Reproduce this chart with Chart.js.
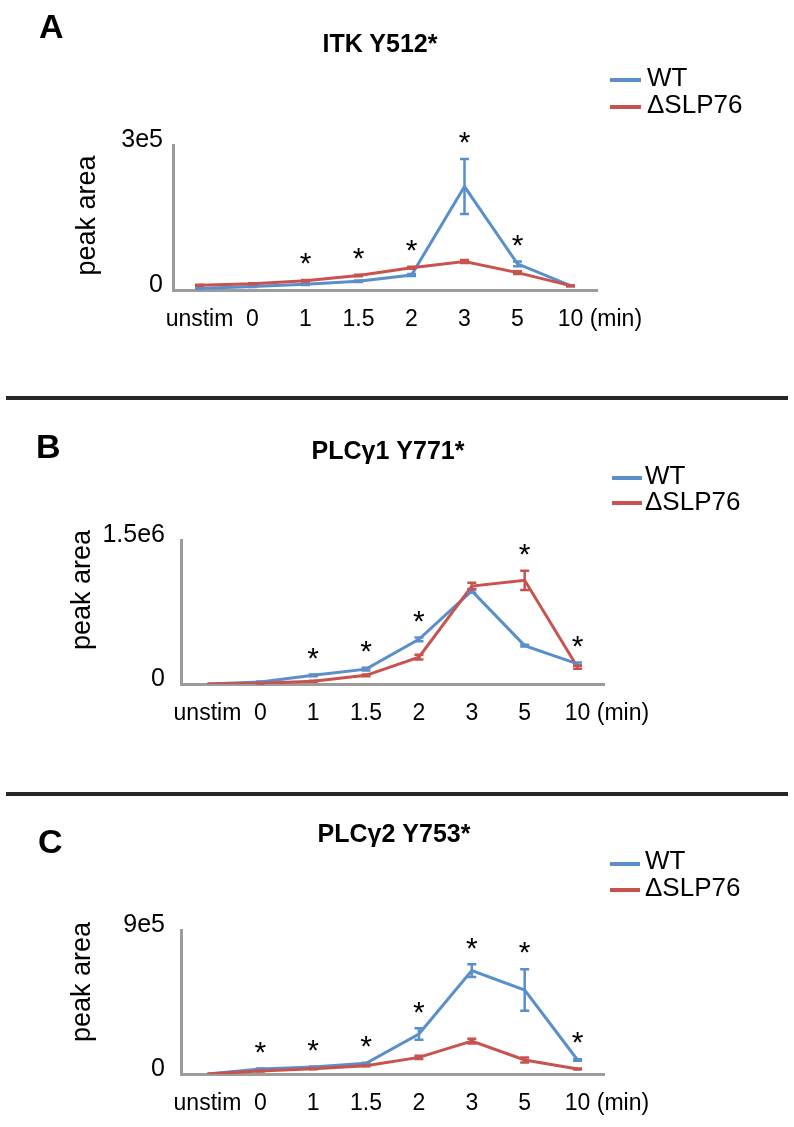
<!DOCTYPE html>
<html><head><meta charset="utf-8">
<script src="https://cdn.jsdelivr.net/npm/chart.js@4.4.1/dist/chart.umd.min.js"></script>
<style>
html,body{margin:0;padding:0;background:#fff;}
body{width:794px;height:1127px;position:relative;overflow:hidden;font-family:"Liberation Sans",Arial,sans-serif;color:#000;}
.abs{position:absolute;white-space:nowrap;z-index:2;}
canvas{position:absolute;left:0;z-index:1;}
.sep{position:absolute;left:6px;width:782px;height:4px;background:#262626;z-index:2;}
.letter{font-weight:bold;font-size:34px;line-height:34px;}
.title{font-weight:bold;font-size:25px;line-height:25px;transform:translateX(-50%);}
.leg{font-size:26px;line-height:26px;}
.legline{position:absolute;height:4px;z-index:2;}
</style></head>
<body>
<canvas id="cA" width="794" height="398" style="top:0px"></canvas>
<canvas id="cB" width="794" height="396" style="top:398px"></canvas>
<canvas id="cC" width="794" height="333" style="top:794px"></canvas>

<div class="sep" style="top:396px"></div>
<div class="sep" style="top:792px"></div>

<div class="abs letter" style="left:39px;top:9px">A</div>
<div class="abs letter" style="left:36px;top:429px">B</div>
<div class="abs letter" style="left:38px;top:824px">C</div>

<div class="abs title" id="tA" style="left:380px;top:31px"></div>
<div class="abs title" id="tB" style="left:388px;top:438px"></div>
<div class="abs title" id="tC" style="left:394px;top:821px"></div>

<div id="legends"></div>

<script>
// ---------- data ----------
const categories = ['unstim', '0', '1', '1.5', '2', '3', '5', '10'];
const unitLabel = '(min)';
const seriesNames = ['WT', 'ΔSLP76'];
const yAxisTitle = 'peak area';

// Panel A: ITK Y512*
const titleA = 'ITK Y512*';
const itkWT     = [3000, 7000, 12000, 18000, 31000, 214000, 54000, 9000];
const itkWTErr  = [1000, 1000, 1500, 1500, 2000, 57000, 5000, 1000];
const itkKO     = [10000, 13000, 19000, 30000, 46000, 59000, 36000, 9000];
const itkKOErr  = [1000, 1000, 1500, 1500, 2000, 3000, 3000, 1000];
const itkSig    = [false, false, true, true, true, true, true, false];
const itkYTicks = ['0', '3e5'];
const itkYMax   = 300000;

// Panel B: PLCγ1 Y771*
const titleB = 'PLCγ1 Y771*';
const plcg1WT    = [0, 20000, 90000, 155000, 465000, 970000, 400000, 210000];
const plcg1WTErr = [0, 5000, 10000, 15000, 20000, 20000, 10000, 15000];
const plcg1KO    = [0, 7000, 28000, 90000, 280000, 1020000, 1080000, 175000];
const plcg1KOErr = [0, 3000, 5000, 10000, 25000, 35000, 100000, 15000];
const plcg1Sig   = [false, false, true, true, true, false, true, true];
const plcg1YTicks = ['0', '1.5e6'];
const plcg1YMax   = 1500000;

// Panel C: PLCγ2 Y753*
const titleC = 'PLCγ2 Y753*';
const plcg2WT    = [0, 31000, 44000, 67000, 250000, 646000, 525000, 87500];
const plcg2WTErr = [0, 3000, 3000, 3000, 36000, 40000, 130000, 5000];
const plcg2KO    = [0, 19000, 33000, 52000, 104000, 206000, 87500, 31000];
const plcg2KOErr = [0, 3000, 3000, 3000, 10000, 15000, 15000, 3000];
const plcg2Sig   = [false, true, true, true, true, true, true, true];
const plcg2YTicks = ['0', '9e5'];
const plcg2YMax   = 900000;

// ---------- styles / layout ----------
const BLUE = '#5A8FCB';
const RED = '#C9524F';
const AXIS = '#9C9C9C';
const FONT = '"Liberation Sans", Arial, sans-serif';
Chart.defaults.font.family = FONT;
Chart.defaults.color = '#000';

const X_AXIS_H = 50;
const layoutA = {left:173, padRight:197, padTop:145, padBottom:58, yPad:10, yTitleX:88, yTitleDy:-2,
  legendLineX:610, legendLineW:31, legendTextX:647, legendText:[64, 91], legendLine:[78, 105]};
const layoutB = {left:181, padRight:190, padTop:142, padBottom:60, yPad:16, yTitleX:83, yTitleDy:-22,
  legendLineX:612, legendLineW:30, legendTextX:645, legendText:[462, 488], legendLine:[476, 501]};
const layoutC = {left:181, padRight:190, padTop:136, padBottom:3, yPad:16, yTitleX:83, yTitleDy:-20,
  legendLineX:610, legendLineW:30, legendTextX:645, legendText:[847, 874], legendLine:[862, 888]};

document.getElementById('tA').textContent = titleA;
document.getElementById('tB').textContent = titleB;
document.getElementById('tC').textContent = titleC;

function addLegend(L) {
  const host = document.getElementById('legends');
  [BLUE, RED].forEach((c, i) => {
    const ln = document.createElement('div');
    ln.className = 'legline';
    ln.style.cssText = `left:${L.legendLineX}px;top:${L.legendLine[i]}px;width:${L.legendLineW}px;background:${c};`;
    host.appendChild(ln);
    const t = document.createElement('div');
    t.className = 'abs leg';
    t.style.cssText = `left:${L.legendTextX}px;top:${L.legendText[i]}px;`;
    t.textContent = seriesNames[i];
    host.appendChild(t);
  });
}

// error bars drawn via the chart's own scales
const errorBarPlugin = {
  id: 'errorBars',
  afterDatasetsDraw(chart) {
    const {ctx, scales: {x, y}} = chart;
    chart.data.datasets.forEach(ds => {
      ctx.save();
      ctx.strokeStyle = ds.borderColor;
      ctx.lineWidth = 2.5;
      ds.data.forEach((v, i) => {
        const e = ds.errors[i];
        if (!e) return;
        const px = x.getPixelForValue(i);
        const yt = y.getPixelForValue(v + e);
        const yb = y.getPixelForValue(Math.max(0, v - e));
        ctx.beginPath();
        ctx.moveTo(px, yt); ctx.lineTo(px, yb);
        ctx.moveTo(px - 4.5, yt); ctx.lineTo(px + 4.5, yt);
        ctx.moveTo(px - 4.5, yb); ctx.lineTo(px + 4.5, yb);
        ctx.stroke();
      });
      ctx.restore();
    });
  }
};

// significance asterisks above the highest point (incl. error)
const sigPlugin = {
  id: 'sigStars',
  afterDraw(chart, args, opts) {
    const {ctx, scales: {x, y}} = chart;
    const flags = opts.flags || [];
    ctx.save();
    ctx.fillStyle = '#000';
    ctx.font = `30px ${FONT}`;
    ctx.textAlign = 'center';
    ctx.textBaseline = 'middle';
    flags.forEach((f, i) => {
      if (!f) return;
      let top = Infinity;
      chart.data.datasets.forEach(ds => {
        top = Math.min(top, y.getPixelForValue(ds.data[i] + (ds.errors[i] || 0)));
      });
      ctx.fillText('*', x.getPixelForValue(i), top - 15);
    });
    ctx.restore();
  }
};

// unit label after the last x tick label, on the same line
const unitPlugin = {
  id: 'unitLabel',
  afterDraw(chart) {
    const {ctx, scales: {x}} = chart;
    const tickOpts = x.options.ticks;
    const size = tickOpts.font.size;
    ctx.save();
    ctx.font = `${size}px ${FONT}`;
    ctx.fillStyle = '#000';
    ctx.textAlign = 'left';
    ctx.textBaseline = 'middle';
    const last = categories.length - 1;
    const lx = x.getPixelForValue(last) + ctx.measureText(categories[last]).width / 2 + ctx.measureText(' ').width;
    const ly = x.top + tickOpts.padding + size * 1.2 / 2;
    ctx.fillText(unitLabel, lx, ly);
    ctx.restore();
  }
};

// rotated y-axis title
const yTitlePlugin = {
  id: 'yTitle',
  afterDraw(chart, args, opts) {
    const {ctx, chartArea} = chart;
    ctx.save();
    ctx.font = `27px ${FONT}`;
    ctx.fillStyle = '#000';
    ctx.textAlign = 'center';
    ctx.textBaseline = 'middle';
    ctx.translate(opts.x, (chartArea.top + chartArea.bottom) / 2 + opts.dy);
    ctx.rotate(-Math.PI / 2);
    ctx.fillText(opts.text, 0, 0);
    ctx.restore();
  }
};

function makeChart(id, L, wt, wtErr, ko, koErr, sig, yTicks, yMax) {
  addLegend(L);
  return new Chart(document.getElementById(id), {
    type: 'line',
    data: {
      labels: categories,
      datasets: [
        {label: seriesNames[0], data: wt, errors: wtErr, borderColor: BLUE, backgroundColor: BLUE,
         borderWidth: 3, pointRadius: 0, tension: 0, order: 1},
        {label: seriesNames[1], data: ko, errors: koErr, borderColor: RED, backgroundColor: RED,
         borderWidth: 3, pointRadius: 0, tension: 0, order: 0}
      ]
    },
    options: {
      responsive: false,
      animation: false,
      devicePixelRatio: 1,
      layout: {padding: {left: 0, right: L.padRight, top: L.padTop, bottom: L.padBottom}},
      plugins: {
        legend: {display: false},
        tooltip: {enabled: false},
        sigStars: {flags: sig},
        yTitle: {text: yAxisTitle, x: L.yTitleX, dy: L.yTitleDy}
      },
      scales: {
        x: {
          type: 'category',
          offset: true,
          grid: {display: false, drawTicks: false},
          border: {display: true, color: AXIS, width: 3},
          ticks: {autoSkip: false, maxRotation: 0, minRotation: 0, padding: 16, color: '#000',
                  font: {size: 23}},
          afterFit(s) { s.height = X_AXIS_H; }
        },
        y: {
          min: 0, max: yMax,
          grid: {display: false, drawTicks: false},
          border: {display: true, color: AXIS, width: 3},
          ticks: {stepSize: yMax, padding: L.yPad, labelOffset: -5, color: '#000', font: {size: 25},
                  callback: (v, i) => yTicks[i]},
          afterFit(s) { s.width = L.left; }
        }
      }
    },
    plugins: [errorBarPlugin, sigPlugin, unitPlugin, yTitlePlugin]
  });
}

makeChart('cA', layoutA, itkWT, itkWTErr, itkKO, itkKOErr, itkSig, itkYTicks, itkYMax);
makeChart('cB', layoutB, plcg1WT, plcg1WTErr, plcg1KO, plcg1KOErr, plcg1Sig, plcg1YTicks, plcg1YMax);
makeChart('cC', layoutC, plcg2WT, plcg2WTErr, plcg2KO, plcg2KOErr, plcg2Sig, plcg2YTicks, plcg2YMax);
</script>
</body></html>
